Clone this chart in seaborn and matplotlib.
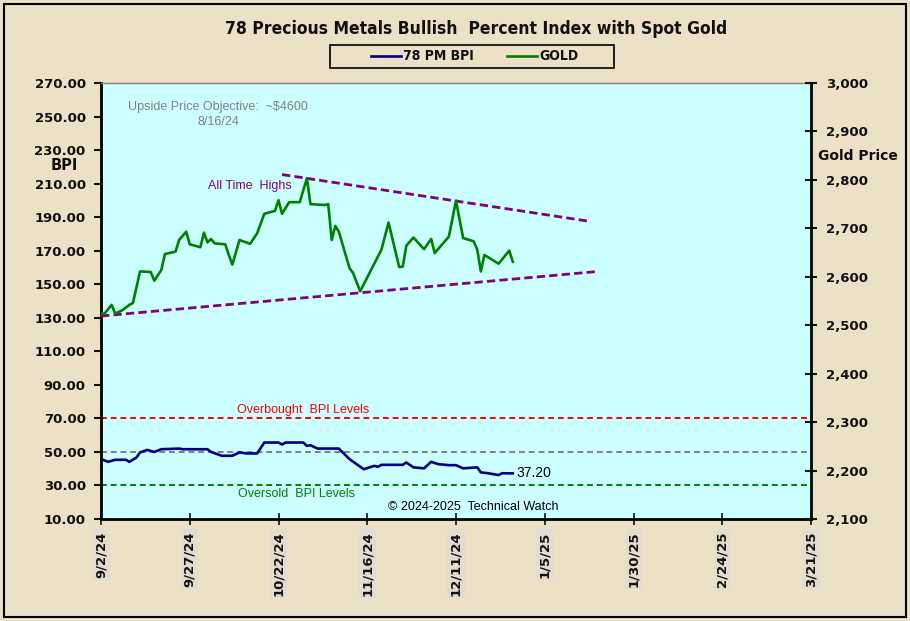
import numpy as np
import pandas as pd
import matplotlib
matplotlib.use("Agg")
import matplotlib.pyplot as plt
from matplotlib.patches import Rectangle
import seaborn as sns

# spot gold at the line's turning points
gold_dates = ["2024-09-02", "2024-09-03", "2024-09-05", "2024-09-06", "2024-09-08", "2024-09-10",
              "2024-09-11", "2024-09-13", "2024-09-16", "2024-09-17", "2024-09-19", "2024-09-20",
              "2024-09-23", "2024-09-24", "2024-09-26", "2024-09-27", "2024-09-30", "2024-10-01",
              "2024-10-02", "2024-10-03", "2024-10-04", "2024-10-07", "2024-10-08", "2024-10-09",
              "2024-10-11", "2024-10-14", "2024-10-16", "2024-10-18", "2024-10-21", "2024-10-22",
              "2024-10-23", "2024-10-25", "2024-10-28", "2024-10-29", "2024-10-30", "2024-10-31",
              "2024-11-04", "2024-11-05", "2024-11-06", "2024-11-07", "2024-11-08", "2024-11-11",
              "2024-11-12", "2024-11-14", "2024-11-20", "2024-11-22", "2024-11-25", "2024-11-26",
              "2024-11-27", "2024-11-29", "2024-12-02", "2024-12-04", "2024-12-05", "2024-12-09",
              "2024-12-11", "2024-12-13", "2024-12-16", "2024-12-17", "2024-12-18", "2024-12-19",
              "2024-12-23", "2024-12-26", "2024-12-27"]
gold_vals = [2524, 2524, 2542, 2524, 2531, 2542,
             2546, 2611, 2610, 2592, 2614, 2647,
             2652, 2676, 2693, 2667, 2661, 2691,
             2671, 2678, 2669, 2667, 2645, 2625,
             2676, 2668, 2690, 2730, 2736, 2758,
             2730, 2754, 2754, 2779, 2803, 2750,
             2748, 2750, 2676, 2705, 2693, 2618,
             2608, 2570, 2656, 2712, 2620, 2621,
             2664, 2681, 2657, 2678, 2649, 2683,
             2757, 2680, 2673, 2656, 2611, 2645,
             2627, 2654, 2631]

# 78 PM bullish percent
bpi_dates = ["2024-09-02", "2024-09-04", "2024-09-06", "2024-09-09", "2024-09-10", "2024-09-12",
             "2024-09-13", "2024-09-15", "2024-09-17", "2024-09-19", "2024-09-24", "2024-09-25",
             "2024-10-02", "2024-10-03", "2024-10-06", "2024-10-09", "2024-10-11", "2024-10-13",
             "2024-10-16", "2024-10-18", "2024-10-22", "2024-10-23", "2024-10-24", "2024-10-29",
             "2024-10-30", "2024-10-31", "2024-11-02", "2024-11-08", "2024-11-11", "2024-11-13",
             "2024-11-15", "2024-11-18", "2024-11-19", "2024-11-20", "2024-11-26", "2024-11-27",
             "2024-11-29", "2024-12-02", "2024-12-04", "2024-12-06", "2024-12-09", "2024-12-11",
             "2024-12-13", "2024-12-17", "2024-12-18", "2024-12-20", "2024-12-23", "2024-12-24",
             "2024-12-27"]
bpi_vals = [45.7, 44.1, 45.3, 45.3, 44.1, 46.7,
            49.7, 51.2, 50.0, 51.6, 52.0, 51.6,
            51.6, 50.0, 47.7, 47.7, 49.7, 49.1,
            49.1, 55.6, 55.6, 54.4, 55.6, 55.6,
            53.6, 54.0, 52.0, 52.0, 45.7, 42.7,
            39.7, 41.7, 41.1, 42.3, 42.3, 43.7,
            40.8, 40.2, 44.1, 42.7, 42.1, 42.1,
            40.2, 40.8, 37.8, 37.3, 36.2, 37.3,
            37.2]

# trend lines on the gold scale
low_trend_dates = ["2024-09-02", "2025-01-20"]
low_trend_vals = [2519, 2611]
high_trend_dates = ["2024-10-23", "2025-01-18"]
high_trend_vals = [2811, 2714]

bpi_levels = [70, 50, 30]
level_colors = ["#ff0000", "#808080", "#008000"]

x_ticks = pd.date_range("2024-09-02", periods=9, freq="25D")
x_labels = ["9/2/24", "9/27/24", "10/22/24", "11/16/24", "12/11/24", "1/5/25", "1/30/25", "2/24/25", "3/21/25"]
bpi_ticks = np.arange(10, 271, 20)
gold_ticks = np.arange(2100, 3001, 100)

df_gold = pd.DataFrame({"date": pd.to_datetime(gold_dates), "gold": gold_vals})
df_bpi = pd.DataFrame({"date": pd.to_datetime(bpi_dates), "bpi": bpi_vals})
df_low = pd.DataFrame({"date": pd.to_datetime(low_trend_dates), "v": low_trend_vals})
df_high = pd.DataFrame({"date": pd.to_datetime(high_trend_dates), "v": high_trend_vals})

paper = "#ece0c6"
navy = "#000080"
green = "#008000"
purple = "#800080"
ink = "#111111"

fig = plt.figure(figsize=(9.1, 6.21), dpi=100, facecolor=paper)
ax1 = fig.add_axes([101 / 910, 1 - 519 / 621, 710 / 910, 436 / 621])
ax1.set_facecolor("#ccffff")
ax2 = ax1.twinx()

for lev, c in zip(bpi_levels, level_colors):
    ax1.axhline(lev, color=c, lw=1.4, ls=(0, (3, 2)), zorder=1)

sns.lineplot(data=df_bpi, x="date", y="bpi", ax=ax1, color=navy, lw=1.9, label="78 PM BPI")
sns.lineplot(data=df_low, x="date", y="v", ax=ax2, color=purple, lw=2, ls=(0, (3, 1.5)))
sns.lineplot(data=df_high, x="date", y="v", ax=ax2, color=purple, lw=2, ls=(0, (3, 1.5)))
sns.lineplot(data=df_gold, x="date", y="gold", ax=ax2, color=green, lw=1.9, label="GOLD")

h1, l1 = ax1.get_legend_handles_labels()
h2, l2 = ax2.get_legend_handles_labels()
ax1.get_legend().remove()
ax2.get_legend().remove()

ax1.set_xlim(x_ticks[0], x_ticks[-1])
ax1.set_ylim(10, 270)
ax2.set_ylim(2100, 3000)
ax1.set_xticks(x_ticks)
ax1.set_xticklabels(x_labels, rotation=90, fontweight="bold", fontsize=9.5,
                    bbox=dict(facecolor="#e4ddcf", edgecolor="none", pad=1.5))
ax1.set_yticks(bpi_ticks)
ax1.set_yticklabels([f"{v:.2f}" for v in bpi_ticks], fontweight="bold", fontsize=9.5)
ax2.set_yticks(gold_ticks)
ax2.set_yticklabels([f"{v:,}" for v in gold_ticks], fontweight="bold", fontsize=9.5)
ax1.set_xlabel("")
ax1.set_ylabel("")
ax2.set_ylabel("")

ax1.tick_params(axis="y", direction="out", length=5, width=1.5, pad=6, colors=ink)
ax1.tick_params(axis="x", direction="inout", length=8, width=1.2, pad=5, colors=ink)
ax2.tick_params(axis="y", direction="inout", length=9, width=1.5, pad=6, colors=ink)

for s in ["left", "bottom"]:
    ax1.spines[s].set_linewidth(2)
    ax1.spines[s].set_color("black")
ax1.spines["top"].set_color("#808080")
ax1.spines["top"].set_linewidth(1)
ax1.spines["right"].set_visible(False)
for s in ["left", "bottom", "top"]:
    ax2.spines[s].set_visible(False)
ax2.spines["right"].set_linewidth(2)
ax2.spines["right"].set_color("black")

txt = dict(family="Liberation Sans", fontsize=9)
ax1.text(pd.Timestamp("2024-10-05"), 255.7, "Upside Price Objective:  ~$4600", color="#808080",
         ha="center", va="center", **txt)
ax1.text(pd.Timestamp("2024-10-05"), 246.8, "8/16/24", color="#808080", ha="center", va="center", **txt)
ax1.text(pd.Timestamp("2024-10-14"), 208.7, "All Time  Highs", color=purple, ha="center", va="center", **txt)
ax1.text(pd.Timestamp("2024-10-29"), 75, "Overbought  BPI Levels", color="#ff0000", ha="center", va="center", **txt)
ax1.text(pd.Timestamp("2024-10-27"), 25, "Oversold  BPI Levels", color=green, ha="center", va="center", **txt)
ax1.text(pd.Timestamp("2024-12-16"), 17.1, "\u00a9 2024-2025  Technical Watch", color="black",
         ha="center", va="center", **txt)
ax1.text(pd.Timestamp("2024-12-28"), 37.3, "37.20", color="black", ha="left", va="center",
         family="Liberation Sans", fontsize=10)

fig.text(476 / 910, 1 - 29 / 621, "78 Precious Metals Bullish  Percent Index with Spot Gold",
         ha="center", va="center", family="DejaVu Sans", fontstretch="condensed",
         fontweight="bold", fontsize=12.5, color=ink)
fig.text(64 / 910, 1 - 165 / 621, "BPI", ha="center", va="center", fontweight="bold", fontsize=10.5,
         color=ink)
fig.text(858 / 910, 1 - 156 / 621, "Gold Price", ha="center", va="center", fontweight="bold",
         fontsize=10, color=ink)

# legend box drawn by hand so the entries can sit near the middle
fig.patches.append(Rectangle((330 / 910, 1 - 68 / 621), 284 / 910, 23 / 621, transform=fig.transFigure,
                             facecolor=paper, edgecolor="black", lw=1.2, zorder=2))
leg = fig.legend(h1 + h2, l1 + l2, loc="center", ncol=2, bbox_to_anchor=(475 / 910, 1 - 56.5 / 621),
                 frameon=False, handlelength=2.1, handletextpad=0.2, columnspacing=2.4,
                 prop=dict(family="DejaVu Sans", stretch="condensed", weight="bold", size=10))
leg.set_zorder(3)
for t in leg.get_texts():
    t.set_color(ink)

fig.patches.append(Rectangle((4 / 910, 4 / 621), 902 / 910, 613 / 621, transform=fig.transFigure,
                             fill=False, edgecolor="black", lw=1.5))

fig.savefig("out.png", dpi=100, facecolor=paper)
